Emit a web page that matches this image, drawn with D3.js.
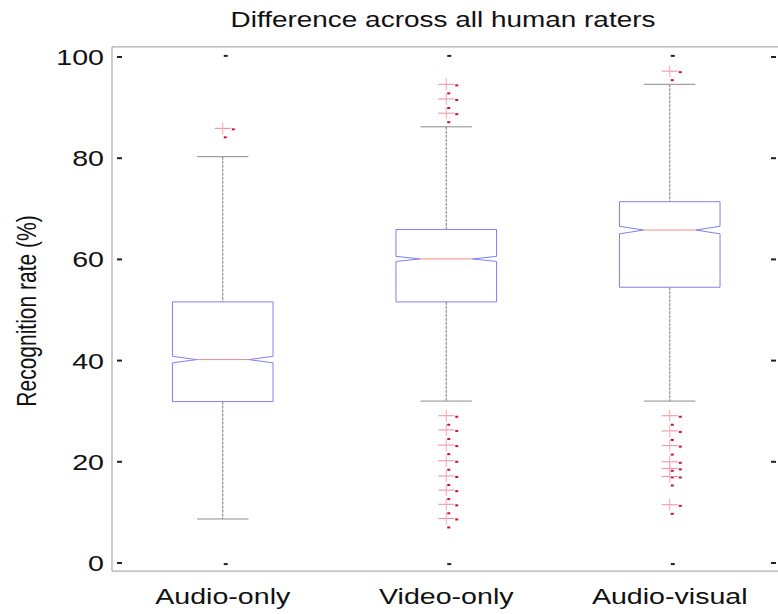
<!DOCTYPE html>
<html><head><meta charset="utf-8">
<script src="https://cdn.jsdelivr.net/npm/d3@7"></script>
<style>body{margin:0;background:#fff}svg{display:block}text{font-family:"Liberation Sans",Arial,sans-serif;fill:#111}</style>
</head><body><svg id="c" width="778" height="614"></svg>
<script>
const categories = ["Audio-only","Video-only","Audio-visual"];
const upperWhisker = [80.3, 86.2, 94.6];
const q3 = [51.6, 65.9, 71.4];
const median = [40.2, 60.1, 65.8];
const q1 = [31.9, 51.6, 54.5];
const lowerWhisker = [8.7, 32.0, 32.0];
const notch = [0.65, 0.5, 0.75];
const outliersAudio = [85.9];
const outliersVideo = [94.6, 91.7, 88.9, 29.1, 26.3, 23.3, 20.2, 17.2, 14.4, 11.6, 8.8];
const outliersAV = [97.2, 29.1, 26.1, 23.2, 20.0, 18.7, 17.1, 11.5];
const outliers = [outliersAudio, outliersVideo, outliersAV];
const yTicks = [0, 20, 40, 60, 80, 100];
const title = "Difference across all human raters";
const yLabel = "Recognition rate (%)";

const svg = d3.select("#c");
const x = d3.scaleLinear().domain([0.5, 3.5]).range([111, 781.5]);
const y = d3.scaleLinear().domain([0, 100]).range([563, 57]);
const yLo = -1.6, yHi = 102;
const boxW = 0.45, capW = 0.23, notchIn = 0.24;
const axisCol = "#9a9a9a";
const sx = 1.3; // horizontal stretch of text in the reference

function stext(g, tx, ty, str, size, anchor) {
  return g.append("text")
    .attr("transform", `translate(${tx},${ty}) scale(${sx},1)`)
    .attr("text-anchor", anchor).attr("font-size", size).text(str);
}

// axis frame
const left = x(0.5) + 1, right = 778;
svg.append("line").attr("x1", left).attr("x2", left).attr("y1", y(yHi)).attr("y2", y(yLo)).attr("stroke", axisCol);
svg.append("line").attr("x1", left).attr("x2", right).attr("y1", y(yHi)).attr("y2", y(yHi)).attr("stroke", axisCol);
svg.append("line").attr("x1", left).attr("x2", right).attr("y1", y(yLo)).attr("y2", y(yLo)).attr("stroke", axisCol);

// y ticks and labels
const gy = svg.append("g");
yTicks.forEach(t => {
  gy.append("rect").attr("x", left + 5).attr("y", y(t) - 1).attr("width", 5).attr("height", 2).attr("fill", "#222");
  gy.append("rect").attr("x", 771).attr("y", y(t) - 1).attr("width", 5).attr("height", 2).attr("fill", "#222");
  stext(gy, 104, y(t) + 8, t, 22, "end");
});
// x ticks (top & bottom) and labels
categories.forEach((c, i) => {
  const cx = x(i + 1);
  svg.append("rect").attr("x", cx + 1).attr("y", y(yHi) + 8).attr("width", 4).attr("height", 2).attr("fill", "#222");
  svg.append("rect").attr("x", cx + 1).attr("y", y(yLo) - 8).attr("width", 4).attr("height", 2).attr("fill", "#222");
  stext(svg, cx, 604, c, 22, "middle");
});

// boxes
categories.forEach((c, i) => {
  const cx = x(i + 1);
  const half = (x(1 + boxW / 2) - x(1));
  const inner = half * (1 - 2 * notchIn);
  const g = svg.append("g");
  g.append("line").attr("x1", cx).attr("x2", cx).attr("y1", y(upperWhisker[i])).attr("y2", y(q3[i]))
    .attr("stroke", "#777").attr("stroke-dasharray", "3,1");
  g.append("line").attr("x1", cx).attr("x2", cx).attr("y1", y(q1[i])).attr("y2", y(lowerWhisker[i]))
    .attr("stroke", "#777").attr("stroke-dasharray", "3,1");
  const capHalf = x(1 + capW / 2) - x(1);
  [upperWhisker[i], lowerWhisker[i]].forEach(v => {
    g.append("line").attr("x1", cx - capHalf).attr("x2", cx + capHalf).attr("y1", y(v)).attr("y2", y(v)).attr("stroke", "#8a8a8a");
  });
  const pts = [
    [cx - half, y(q3[i])], [cx + half, y(q3[i])], [cx + half, y(median[i] + notch[i])],
    [cx + inner, y(median[i])], [cx + half, y(median[i] - notch[i])], [cx + half, y(q1[i])],
    [cx - half, y(q1[i])], [cx - half, y(median[i] - notch[i])], [cx - inner, y(median[i])],
    [cx - half, y(median[i] + notch[i])]
  ];
  g.append("path").attr("d", d3.line()(pts) + "Z").attr("fill", "none").attr("stroke", "#8080f0").attr("stroke-width", 1);
  g.append("line").attr("x1", cx - inner).attr("x2", cx + inner).attr("y1", y(median[i])).attr("y2", y(median[i]))
    .attr("stroke", "#f08a8a");
  outliers[i].forEach(v => {
    const py = y(v);
    g.append("line").attr("x1", cx - 8).attr("x2", cx + 8).attr("y1", py).attr("y2", py).attr("stroke", "#f08a98");
    g.append("line").attr("x1", cx).attr("x2", cx).attr("y1", py - 6).attr("y2", py + 6).attr("stroke", "#f5a8b0");
    g.append("rect").attr("x", cx + 9).attr("y", py).attr("width", 3).attr("height", 2).attr("fill", "#d0102a");
    g.append("rect").attr("x", cx + 1).attr("y", py + 8).attr("width", 3).attr("height", 2).attr("fill", "#d0102a");
  });
});

stext(svg, 443, 27, title, 21.5, "middle");
svg.append("text").attr("transform", `translate(36,311) scale(${sx},1) rotate(-90)`)
  .attr("text-anchor", "middle").attr("font-size", 21).text(yLabel);
</script></body></html>
